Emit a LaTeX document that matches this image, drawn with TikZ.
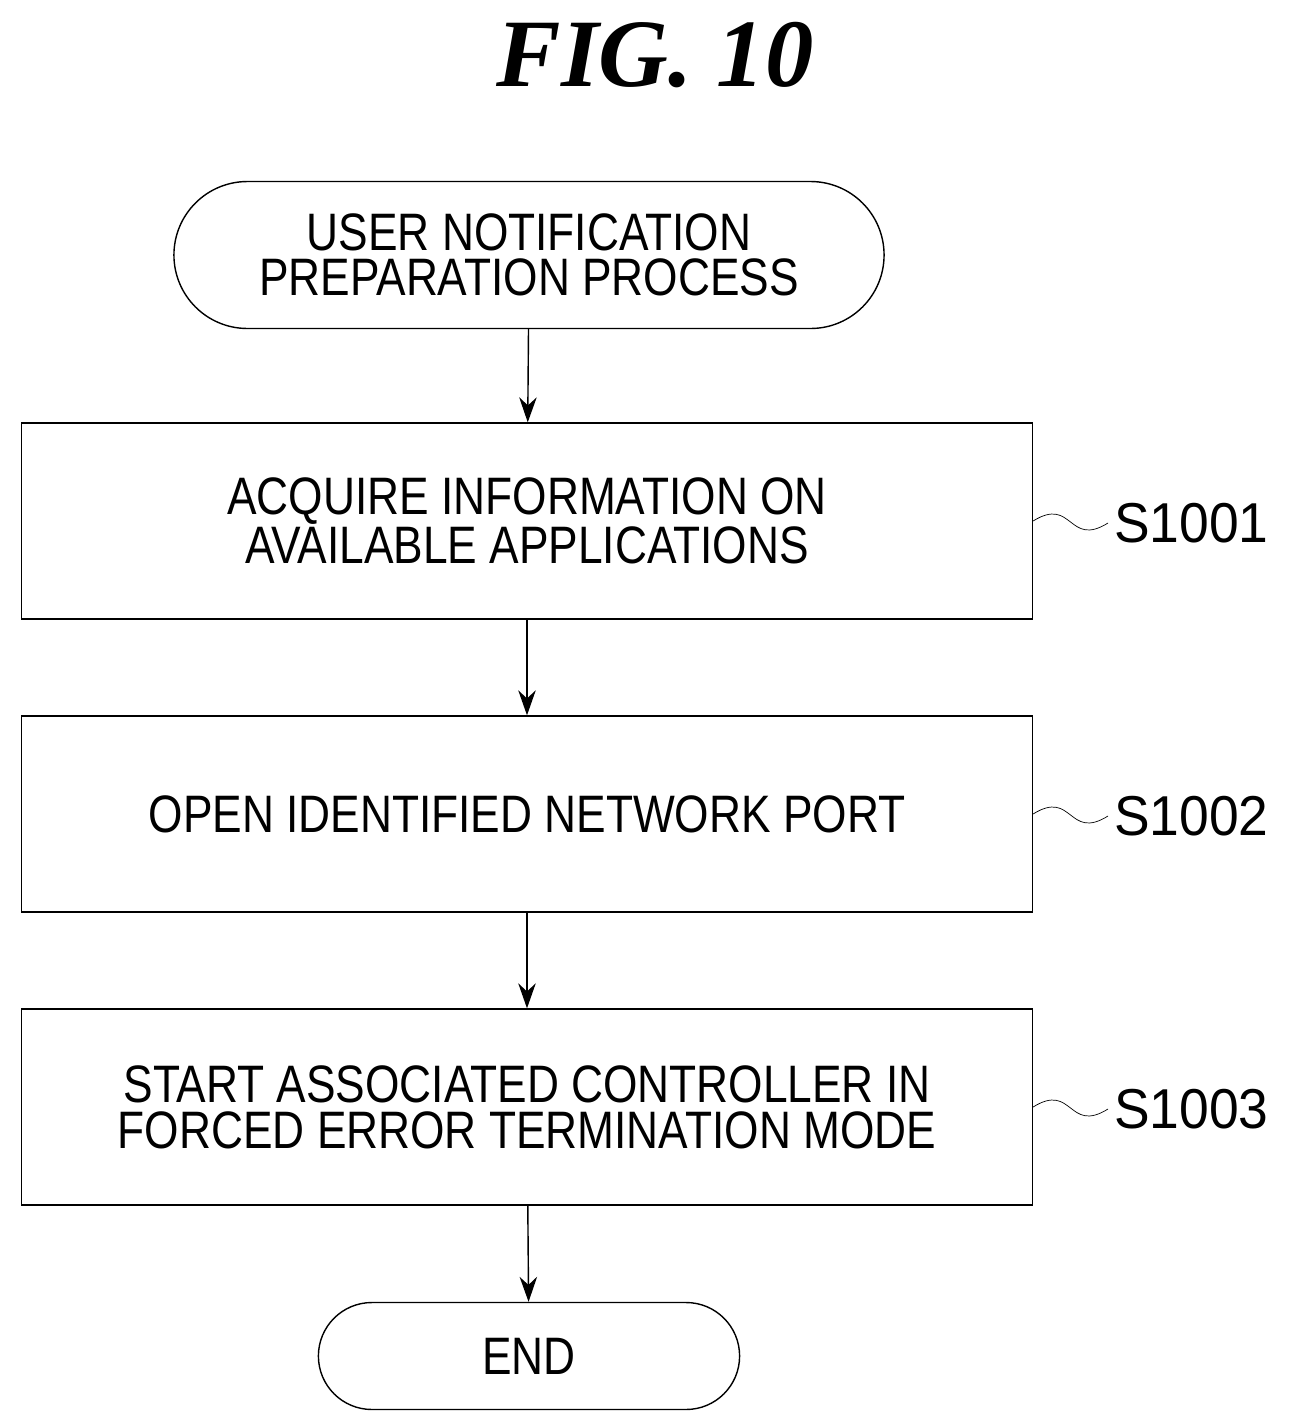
\documentclass[tikz,border=0pt]{standalone}
\usepackage{fontspec}
\setmainfont{Liberation Sans}
\newfontfamily\figfont{Liberation Serif}
\newfontfamily\stepfont[FakeStretch=0.84]{Liberation Sans}
\newfontfamily\tagfont[FakeStretch=0.95]{Liberation Sans}
\usetikzlibrary{arrows.meta,shapes.misc}
\tikzset{
	procbox/.style={draw=black, thick, rectangle, minimum width=20.22cm, minimum height=3.92cm, align=center, font=\stepfont\fontsize{30}{26}\selectfont},
	term/.style={draw=black, thick, rounded rectangle, align=center, font=\stepfont\fontsize{30}{26}\selectfont},
	flow/.style={draw=black, thick, -{Stealth[length=5mm,width=3.5mm]}},
	tag/.style={font=\tagfont\fontsize{32}{36}\selectfont, anchor=west}
}
\begin{document}
\begin{tikzpicture}[x=0.02cm, y=-0.02cm]
			\useasboundingbox (0,0) rectangle (1289,1424);
			\node[font=\figfont\bfseries\itshape\fontsize{55}{60}\selectfont] (title) at (655,55) {FIG. 10};
			\node[term, minimum width=14.44cm, minimum height=2.94cm] (start) at (529,255) {USER NOTIFICATION\\PREPARATION PROCESS};
			\node[procbox] (s1001) at (527,521) {ACQUIRE INFORMATION ON\\AVAILABLE APPLICATIONS};
			\node[procbox] (s1002) at (527,814) {OPEN IDENTIFIED NETWORK PORT};
			\node[procbox] (s1003) at (527,1107) {START ASSOCIATED CONTROLLER IN\\FORCED ERROR TERMINATION MODE};
			\node[term, minimum width=8.66cm, minimum height=2.14cm] (end) at (529,1356) {END};
			\node[tag] (l1001) at (1108,523) {S1001};
			\node[tag] (l1002) at (1108,816) {S1002};
			\node[tag] (l1003) at (1108,1109) {S1003};
			\draw[flow] (start) -- (s1001);
			\draw[flow] (s1001) -- (s1002);
			\draw[flow] (s1002) -- (s1003);
			\draw[flow] (s1003) -- (end);
			\draw[draw=black, thin] (s1001.east) .. controls +(40,-25) and +(-40,25) .. (l1001.west);
			\draw[draw=black, thin] (s1002.east) .. controls +(40,-25) and +(-40,25) .. (l1002.west);
			\draw[draw=black, thin] (s1003.east) .. controls +(40,-25) and +(-40,25) .. (l1003.west);
		\end{tikzpicture}
\end{document}
